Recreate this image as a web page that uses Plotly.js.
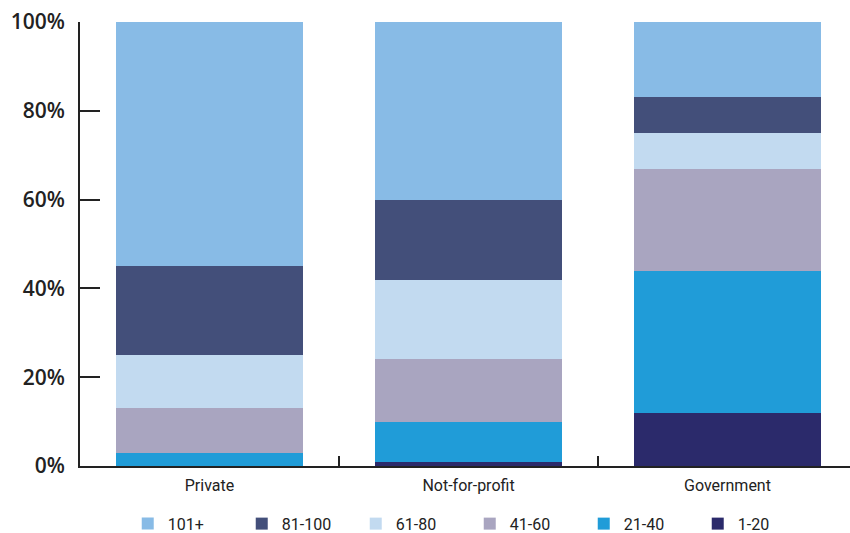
<!DOCTYPE html>
<html>
<head>
<meta charset="utf-8">
<script src="https://cdn.plot.ly/plotly-3.0.1.min.js"></script>
<style>html,body{margin:0;padding:0;background:#fff;}#chart{width:850px;height:533px;}</style>
</head>
<body>
<div id="chart"></div>
<script>
const categories = ["Private", "Not-for-profit", "Government"];
const seriesNames = ["1-20", "21-40", "41-60", "61-80", "81-100", "101+"];
const s1_20 = [0, 1, 12];
const s21_40 = [3, 9, 32];
const s41_60 = [10, 14, 23];
const s61_80 = [12, 18, 8];
const s81_100 = [20, 18, 8];
const s101p = [55, 40, 17];
const yTickVals = [0, 20, 40, 60, 80, 100];
const yTickText = ["0%", "20%", "40%", "60%", "80%", "100%"];
const colors = ["#2B2A6B", "#209CD8", "#A9A5C0", "#C2DAF0", "#434F7A", "#88BBE6"];
const values = [s1_20, s21_40, s41_60, s61_80, s81_100, s101p];

const traces = seriesNames.map((n, i) => ({
  type: "bar",
  name: n,
  x: categories,
  y: values[i],
  width: 0.722,
  marker: {color: colors[i], line: {width: 0}},
  hoverinfo: "skip"
}));

const layout = {
  width: 850, height: 533,
  barmode: "stack",
  margin: {l: 80, r: 0, t: 22, b: 67, autoexpand: false},
  paper_bgcolor: "#fff", plot_bgcolor: "#fff",
  font: {family: "Roboto, sans-serif", color: "#222"},
  showlegend: true,
  legend: {
    orientation: "h", traceorder: "reversed",
    x: 0.062, xanchor: "left", y: -0.13, yanchor: "middle",
    font: {size: 16, color: "#222"},
    entrywidth: 69, entrywidthmode: "pixels",
    itemclick: false
  },
  xaxis: {
    type: "category",
    range: [-0.5, 2.473],
    showline: true, linecolor: "#222", linewidth: 2,
    ticks: "inside", tickson: "boundaries", ticklen: 10, tickcolor: "#222", tickwidth: 2,
    tickfont: {size: 16, color: "#222"},
    showgrid: false, zeroline: false,
    ticklabelstandoff: 4
  },
  yaxis: {
    range: [0, 100],
    tickvals: yTickVals, ticktext: yTickText,
    showline: true, linecolor: "#222", linewidth: 2,
    ticks: "inside", ticklen: 20, tickcolor: "#222", tickwidth: 2,
    tickfont: {size: 21, color: "#222", family: "'Open Sans', sans-serif", weight: 600},
    showgrid: false, zeroline: false,
    ticklabelstandoff: 9
  }
};

Plotly.newPlot("chart", traces, layout, {displayModeBar: false, staticPlot: true});
</script>
</body>
</html>
